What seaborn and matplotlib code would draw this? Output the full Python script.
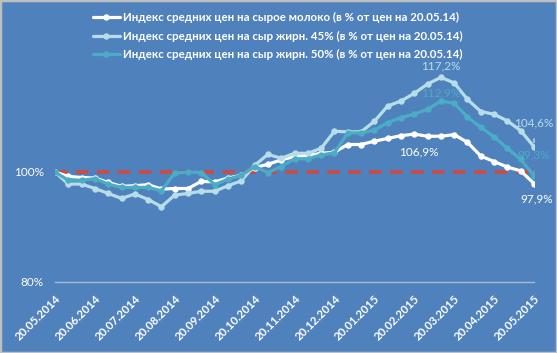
import numpy as np
import pandas as pd
import matplotlib
matplotlib.use('Agg')
import matplotlib.pyplot as plt
import seaborn as sns
from matplotlib.patches import Rectangle

# ===============================
# Data (index, % of prices on 20.05.14), one point per ~10 days
# ===============================
milk = [100.0, 99.2, 99.0, 98.9, 98.1, 97.4, 97.5, 97.7, 96.9, 97.0,
        97.0, 98.3, 98.2, 98.9, 99.4, 100.8, 101.4, 102.2, 102.8, 103.0,
        103.4, 103.6, 105.0, 105.0, 105.6, 106.1, 106.6, 106.9, 106.5, 106.5,
        106.8, 105.4, 102.9, 101.9, 100.9, 100.2, 97.9]
cheese45 = [100.0, 97.8, 97.8, 97.0, 96.1, 95.2, 96.0, 95.0, 93.7, 95.8,
            96.1, 96.5, 96.5, 97.5, 98.4, 101.2, 103.2, 102.5, 103.4, 103.4,
            104.3, 107.4, 107.3, 107.3, 109.2, 112.0, 112.9, 114.3, 116.0, 117.2,
            116.2, 113.2, 111.0, 110.5, 109.3, 107.5, 104.6]
cheese50 = [100.0, 98.5, 98.5, 98.8, 97.8, 97.2, 97.2, 97.2, 96.6, 99.8,
            100.0, 99.9, 97.7, 98.7, 99.4, 101.0, 99.9, 101.0, 102.4, 102.4,
            103.1, 103.5, 107.1, 107.1, 107.6, 109.0, 109.9, 110.5, 111.4, 112.9,
            112.5, 110.0, 108.1, 106.4, 104.3, 102.3, 99.3]
date_labels = ['20.05.2014', '20.06.2014', '20.07.2014', '20.08.2014', '20.09.2014',
               '20.10.2014', '20.11.2014', '20.12.2014', '20.01.2015', '20.02.2015',
               '20.03.2015', '20.04.2015', '20.05.2015']
names = ['Индекс средних цен на сырое молоко (в % от цен на 20.05.14)',
         'Индекс средних цен на сыр жирн. 45% (в % от цен на 20.05.14)',
         'Индекс средних цен на сыр жирн. 50% (в % от цен на 20.05.14)']
baseline = 100

df = pd.DataFrame({'idx': np.arange(len(milk)), 'milk': milk,
                   'c45': cheese45, 'c50': cheese50})

# ===============================
# Style
# ===============================
BG = '#4F81BD'
C_MILK = '#FFFFFF'
C_45 = '#B7DEE8'
C_50 = '#4BACC6'

sns.set_style('white')
plt.rcParams['font.family'] = ['Lato', 'DejaVu Sans']

fig = plt.figure(figsize=(5.57, 3.53), dpi=100, facecolor=BG)
ax = fig.add_axes([55 / 557, 71 / 353, 479 / 557, 275 / 353])
ax.set_facecolor(BG)

ax.axhline(baseline, color='#C0504D', lw=2.9, dashes=(3.1, 2.1), zorder=1)

for col, color, name in [('milk', C_MILK, names[0]), ('c45', C_45, names[1]),
                         ('c50', C_50, names[2])]:
    sns.lineplot(data=df, x='idx', y=col, ax=ax, color=color, lw=2.3,
                 marker='o', markersize=4.6, markeredgewidth=0, label=name,
                 zorder=3)

ax.set_xlim(0, len(milk) - 1)
ax.set_ylim(80, 130)
ax.set_yticks([80, 100])
ax.set_yticklabels(['80%', '100%'], color='white', fontsize=8.5)
ax.set_xticks(np.arange(0, len(milk), 3))
ax.set_xticklabels(date_labels, rotation=45, ha='right', rotation_mode='anchor',
                   color='white', fontsize=8.3, fontweight='bold')
ax.tick_params(length=0, pad=8)
ax.set_xlabel('')
ax.set_ylabel('')
for s in ['top', 'right', 'left']:
    ax.spines[s].set_visible(False)
ax.spines['bottom'].set_color('#A6B9D6')
ax.spines['bottom'].set_linewidth(1)

ax.legend_.remove()
handles, labels = ax.get_legend_handles_labels()
leg = fig.legend(handles, labels, loc='upper left',
                 bbox_to_anchor=(93 / 557, 1 - 12 / 353), frameon=False,
                 fontsize=8.3, handlelength=2.3, handletextpad=0.3,
                 labelspacing=0.65, borderpad=0, borderaxespad=0)
for t in leg.get_texts():
    t.set_color('white')
    t.set_fontweight('bold')

# ===============================
# Data labels
# ===============================
def pct(v):
    return f'{v:.1f}%'.replace('.', ',')

last = len(milk) - 1
i_peak45 = int(np.argmax(cheese45))
i_peak50 = int(np.argmax(cheese50))
i_peakm = int(np.argmax(milk))
kw = dict(textcoords='offset points', ha='center', va='center', fontsize=8.5)
ax.annotate(pct(cheese45[i_peak45]), (i_peak45, cheese45[i_peak45]), xytext=(0, 8),
            color=C_45, **kw)
ax.annotate(pct(cheese50[i_peak50]), (i_peak50, cheese50[i_peak50]), xytext=(0, 6),
            color=C_50, **kw)
ax.annotate(pct(milk[i_peakm]), (i_peakm, milk[i_peakm]), xytext=(3, -13),
            color='white', arrowprops=dict(arrowstyle='-', color='white', lw=0.8,
                                           shrinkA=6, shrinkB=2), **kw)
ax.annotate(pct(cheese45[last]), (last, cheese45[last]), xytext=(0, 17),
            color=C_45, arrowprops=dict(arrowstyle='-', color='#F2F2F2', lw=0.8,
                                        shrinkA=5, shrinkB=3), **kw)
ax.annotate(pct(cheese50[last]), (last, cheese50[last]), xytext=(0, 15),
            color=C_50, arrowprops=dict(arrowstyle='-', color='#A6A6A6', lw=0.6,
                                        shrinkA=5, shrinkB=2), **kw)
ax.annotate(pct(milk[last]), (last, milk[last]), xytext=(2, -11),
            color='white', **kw)

fig.patches.append(Rectangle((0, 0), 1, 1, transform=fig.transFigure, fill=False,
                             edgecolor='#BFBFBF', lw=2.5))

fig.savefig('out.png', dpi=100, facecolor=BG)
